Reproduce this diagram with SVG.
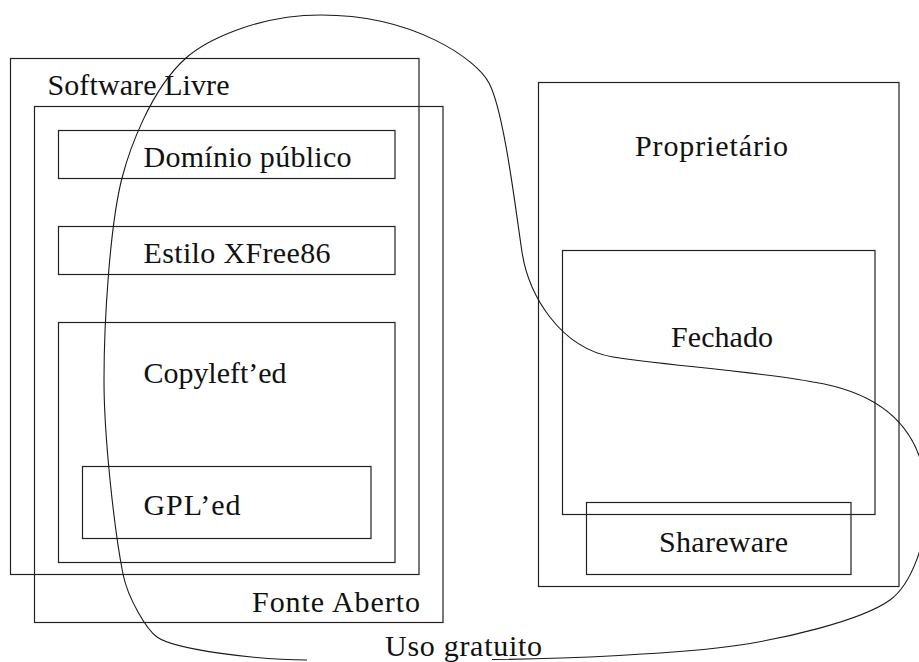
<svg xmlns="http://www.w3.org/2000/svg" width="919" height="662" viewBox="0 0 919 662">
<style>
.box{fill:none;stroke:#222;stroke-width:1.2}
.curve{fill:none;stroke:#1a1a1a;stroke-width:1.1}
</style>
<rect width="919" height="662" fill="#fff"/>
<g font-family="Liberation Serif, serif" font-size="30" fill="#111">
<g id="software-livre">
<rect class="box" x="10.5" y="58.5" width="408.5" height="516"/>
<text x="47.5" y="95" textLength="182">Software Livre</text>
</g>
<g id="fonte-aberto">
<rect class="box" x="34.5" y="106.5" width="408.5" height="516"/>
<text x="252" y="611.5" textLength="168">Fonte Aberto</text>
</g>
<g id="dominio-publico">
<rect class="box" x="58.5" y="130.5" width="336.5" height="48"/>
<text x="143.5" y="166.5" textLength="208">Domínio público</text>
</g>
<g id="estilo-xfree86">
<rect class="box" x="58.5" y="226.5" width="336.5" height="48"/>
<text x="143.5" y="262.5" textLength="187">Estilo XFree86</text>
</g>
<g id="copylefted">
<rect class="box" x="58.5" y="322.5" width="336.5" height="240"/>
<text x="143.5" y="382.5" textLength="143">Copyleft’ed</text>
</g>
<g id="gpled">
<rect class="box" x="82.5" y="466.5" width="288.5" height="72"/>
<text x="143.5" y="515" textLength="97">GPL’ed</text>
</g>
<g id="proprietario">
<rect class="box" x="538.5" y="82.5" width="360.5" height="504"/>
<text x="635" y="156" textLength="153">Proprietário</text>
</g>
<g id="fechado">
<rect class="box" x="562.5" y="250.5" width="312.5" height="264"/>
<text x="671" y="346.5" textLength="102">Fechado</text>
</g>
<g id="shareware">
<rect class="box" x="586.5" y="502.5" width="264.5" height="72"/>
<text x="659" y="551.5" textLength="129">Shareware</text>
</g>
<g id="uso-gratuito">
<path class="curve" d="M307,660 C260,660 175,650 157,637 C147,630 128,599 123,574 C115,534 104,440 104,380 C104,320 110,225 122,178 C129,151 150,90 186,58 C204,42 255,15 321,15 C415,15 477,60 489,83 C504,111 515.7,210 521.7,250 C528,295 560,348 613,357 C653,364 763,372 813,382 C895,395 927,440 927,505 C927,540 912,584 890,600 C860,621.6 780,639 740,645 C680,654 560,659 492,659.5"/>
<text x="385" y="656" textLength="157">Uso gratuito</text>
</g>
</g>
</svg>
